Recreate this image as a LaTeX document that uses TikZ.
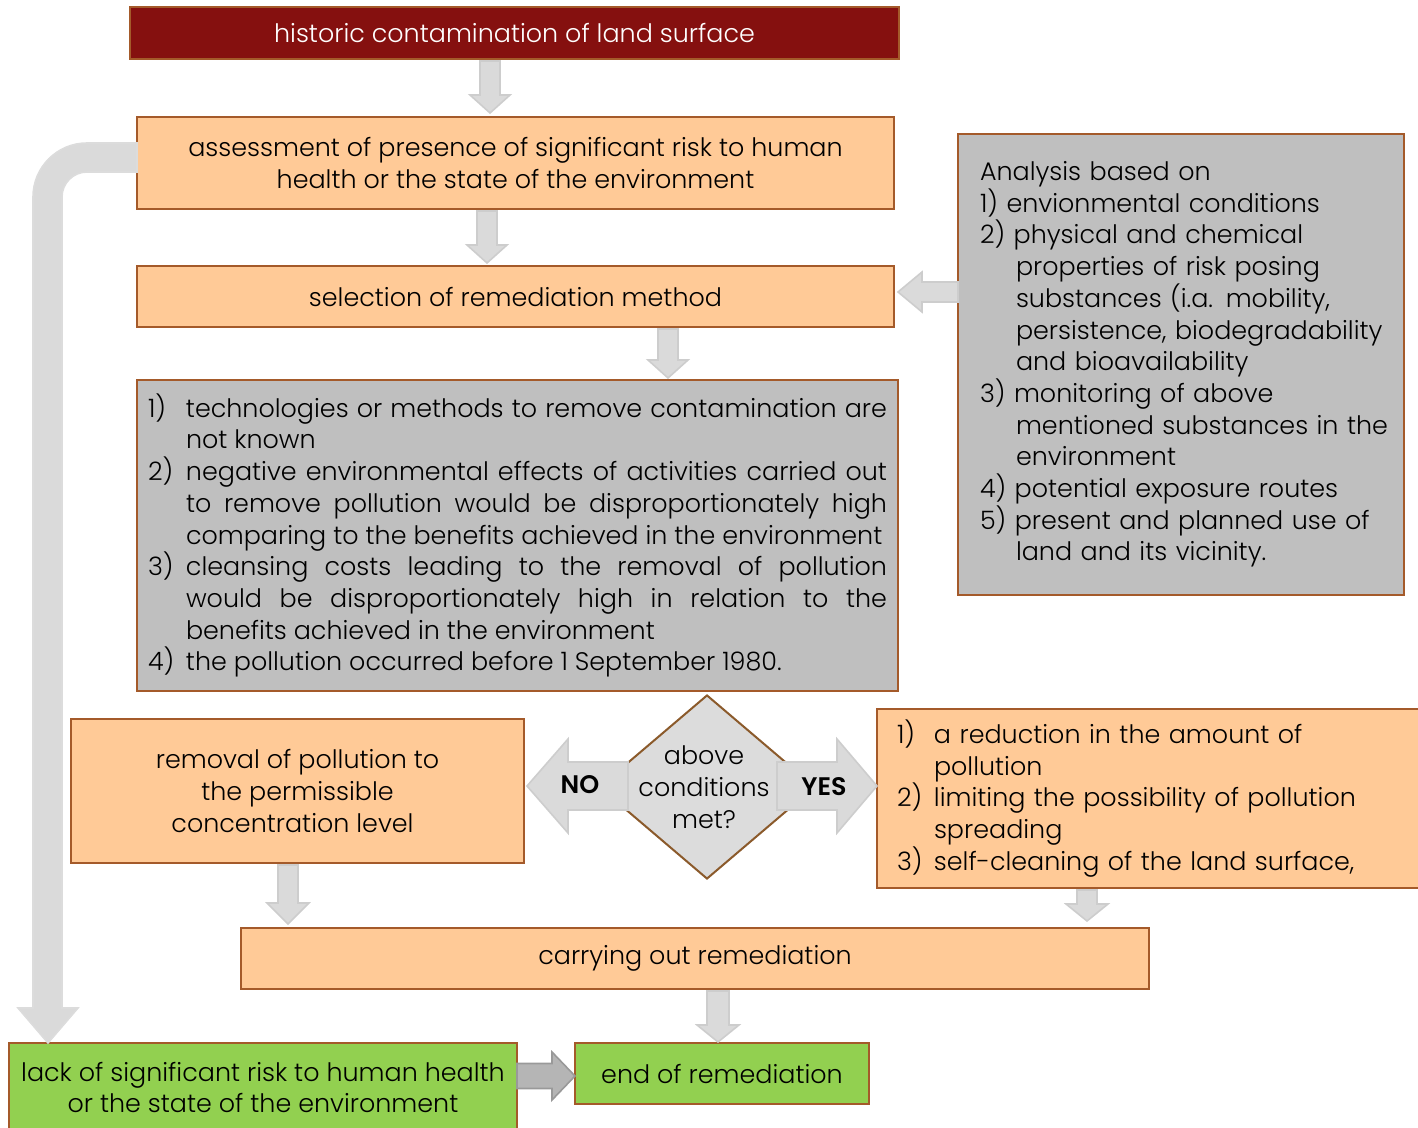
\documentclass[tikz,border=0pt]{standalone}
\usepackage{fontspec}
\setmainfont{Poppins}[UprightFont={* Light}, BoldFont={* SemiBold}]
\usetikzlibrary{calc,shapes.geometric}
\definecolor{titlered}{HTML}{85100F}
\definecolor{bordbrown}{HTML}{A45A2A}
\definecolor{orangefill}{HTML}{FFCA97}
\definecolor{grayfill}{HTML}{BFBFBF}
\definecolor{greenfill}{HTML}{92D050}
\definecolor{diafill}{HTML}{DCDCDC}
\definecolor{diabord}{HTML}{8B5A2B}
\definecolor{arrfill}{HTML}{DADADA}
\definecolor{arrbord}{HTML}{CDCDCD}
\definecolor{darkarrfill}{HTML}{B5B5B5}
\definecolor{darkarrbord}{HTML}{999999}
\newcommand\blkdown[6]{\path[#1] let \p1=#2, \p2=#3 in (\x1-#4,\y1) -- (\x1-#4,\y2+#6) -- (\x1-#5,\y2+#6) -- (\x1,\y2) -- (\x1+#5,\y2+#6) -- (\x1+#4,\y2+#6) -- (\x1+#4,\y1) -- cycle;}
\newcommand\blkleft[6]{\path[#1] let \p1=#2, \p2=#3 in (\x1,\y1+#4) -- (\x2+#6,\y1+#4) -- (\x2+#6,\y1+#5) -- (\x2,\y1) -- (\x2+#6,\y1-#5) -- (\x2+#6,\y1-#4) -- (\x1,\y1-#4) -- cycle;}
\newcommand\blkright[6]{\path[#1] let \p1=#2, \p2=#3 in (\x1,\y1+#4) -- (\x2-#6,\y1+#4) -- (\x2-#6,\y1+#5) -- (\x2,\y1) -- (\x2-#6,\y1-#5) -- (\x2-#6,\y1-#4) -- (\x1,\y1-#4) -- cycle;}
\newcommand\anaitem[1]{\mbox{#1}\\}
\newcommand\anahang[1]{\mbox{\hspace*{18pt}#1}\\}
\begin{document}
\begin{tikzpicture}[x=0.5pt,y=-0.5pt,
  font=\fontsize{12.7}{15.85}\selectfont,
  box/.style={draw=bordbrown, line width=1pt, inner sep=0pt, outer sep=0pt, align=center},
  orangebox/.style={box, fill=orangefill},
  graybox/.style={box, fill=grayfill},
  greenbox/.style={box, fill=greenfill},
  blk/.style={fill=arrfill, draw=arrbord, line width=0.8pt},
  darkblk/.style={fill=darkarrfill, draw=darkarrbord, line width=0.8pt},
  bigblk/.style={fill=arrfill, draw=arrbord!70, line width=0.8pt},
  lbl/.style={font=\fontsize{12.7}{15.85}\selectfont\bfseries, inner sep=0pt}
]
\useasboundingbox (0,0) rectangle (1418,1128);

% boxes
\node[box, fill=titlered, text=white, minimum width=384.5pt, minimum height=26pt] (title) at (514.5,33) {historic contamination of land surface};
\node[orangebox, minimum width=378.5pt, minimum height=46pt] (assess) at (515.5,163) {assessment of presence of significant risk to human\\health or the state of the environment};
\node[orangebox, minimum width=378.5pt, minimum height=30.5pt] (select) at (515.5,296.5) {selection of remediation method};
\node[graybox, minimum width=380.5pt, minimum height=155.5pt, text width=369.5pt, align=justify] (cond) at (517.5,535.5) {%
\hangindent=19pt\hangafter=1\noindent\makebox[19pt][l]{1)}technologies or methods to remove contamination are\linebreak not known\par
\hangindent=19pt\hangafter=1\noindent\makebox[19pt][l]{2)}negative environmental effects of activities carried out\linebreak to remove pollution would be disproportionately high\linebreak comparing to the benefits achieved in the environment\par
\hangindent=19pt\hangafter=1\noindent\makebox[19pt][l]{3)}cleansing costs leading to the removal of pollution\linebreak would be disproportionately high in relation to the\linebreak benefits achieved in the environment\par
\hangindent=19pt\hangafter=1\noindent\makebox[19pt][l]{4)}the pollution occurred before 1 September 1980.};
\node[graybox, minimum width=223pt, minimum height=230.5pt, text width=201pt, align=left] (analysis) at (1181,364.5) {%
\anaitem{Analysis based on}
\anaitem{1) envionmental conditions}
\anaitem{2) physical and chemical}
\anahang{properties of risk posing}
\anahang{substances (i.a. mobility,}
\anahang{persistence, biodegradability}
\anahang{and bioavailability}
\anaitem{3) monitoring of above}
\anahang{mentioned substances in the}
\anahang{environment}
\anaitem{4) potential exposure routes}
\anaitem{5) present and planned use of}
\mbox{\hspace*{18pt}land and its vicinity.}};
\node[diamond, draw=diabord, fill=diafill, line width=1pt, minimum width=108pt, minimum height=92pt, inner sep=0pt] (dia) at (707,787) {};
\node[align=center, inner sep=0pt] (diatext) at ($(dia.center)+(-3,0)$) {above\\conditions\\met?};
\node[orangebox, minimum width=226.5pt, minimum height=72pt] (removal) at (297.5,791) {removal of pollution to\\the permissible\\concentration level\hspace*{5pt}};
\node[orangebox, minimum width=272.5pt, minimum height=89.5pt, text width=252.5pt, align=left] (effects) at (1149.5,798.5) {%
\makebox[18.5pt][l]{1)}a reduction in the amount of\\
\hspace*{18.5pt}pollution\\
\makebox[18.5pt][l]{2)}limiting the possibility of pollution\\
\hspace*{18.5pt}spreading\\
\makebox[18.5pt][l]{3)}self-cleaning of the land surface,};
\node[orangebox, minimum width=454pt, minimum height=30.5pt] (carry) at (695,958.5) {carrying out remediation};
\node[greenbox, minimum width=254pt, minimum height=44.5pt] (lack) at (263,1087.5) {lack of significant risk to human health\\or the state of the environment};
\node[greenbox, minimum width=147pt, minimum height=30.5pt] (end) at (722,1073.5) {end of remediation};

% block arrows
\blkdown{blk}{($(490,0 |- title.south)+(0,2)$)}{($(490,0 |- assess.north)+(0,-4)$)}{5pt}{10pt}{9pt}
\blkdown{blk}{($(487,0 |- assess.south)+(0,2)$)}{($(487,0 |- select.north)+(0,-3)$)}{5pt}{10pt}{9pt}
\blkdown{blk}{($(668,0 |- select.south)+(0,2)$)}{($(668,0 |- cond.north)+(0,-2)$)}{5pt}{10pt}{9pt}
\blkleft{blk}{(analysis.west |- 0,292)}{($(select.east |- 0,292)+(4,0)$)}{5pt}{10pt}{12pt}
\blkdown{blk}{($(288,0 |- removal.south)+(0,2)$)}{($(288,0 |- carry.north)+(0,-4)$)}{5pt}{10.5pt}{10.5pt}
\blkdown{blk}{($(1087,0 |- effects.south)+(0,2)$)}{($(1087,0 |- carry.north)+(0,-7)$)}{5pt}{10.5pt}{8.5pt}
\blkdown{blk}{($(718,0 |- carry.south)+(0,2)$)}{($(718,0 |- end.north)+(0,-1)$)}{5.5pt}{10.5pt}{8.5pt}
\blkleft{blk}{($(dia.center)+(-79,-1)$)}{($(removal.east |- dia.center)+(3,-1)$)}{12pt}{23.5pt}{20.5pt}
\blkright{blk}{($(dia.center)+(70,-1)$)}{($(effects.west |- dia.center)+(0,-1)$)}{12pt}{23.5pt}{20pt}
\blkright{darkblk}{(lack.east |- 0,1076)}{(end.west |- 0,1076)}{6.25pt}{12pt}{11.5pt}
% bent arrow from assessment to "lack of risk"
\path[bigblk] (assess.west |- 0,143) -- (87,143) arc[start angle=90,end angle=180,radius=27pt] -- (33,1008) -- (18,1008) -- (48,0 |- lack.north) -- (78,1008) -- (62,1008) -- (62,197) arc[start angle=180,end angle=90,radius=12.5pt] -- (assess.west |- 0,172) -- cycle;

% labels
\node[lbl] (no) at (580,785) {NO};
\node[lbl] (yes) at (824,787) {YES};
\end{tikzpicture}
\end{document}
